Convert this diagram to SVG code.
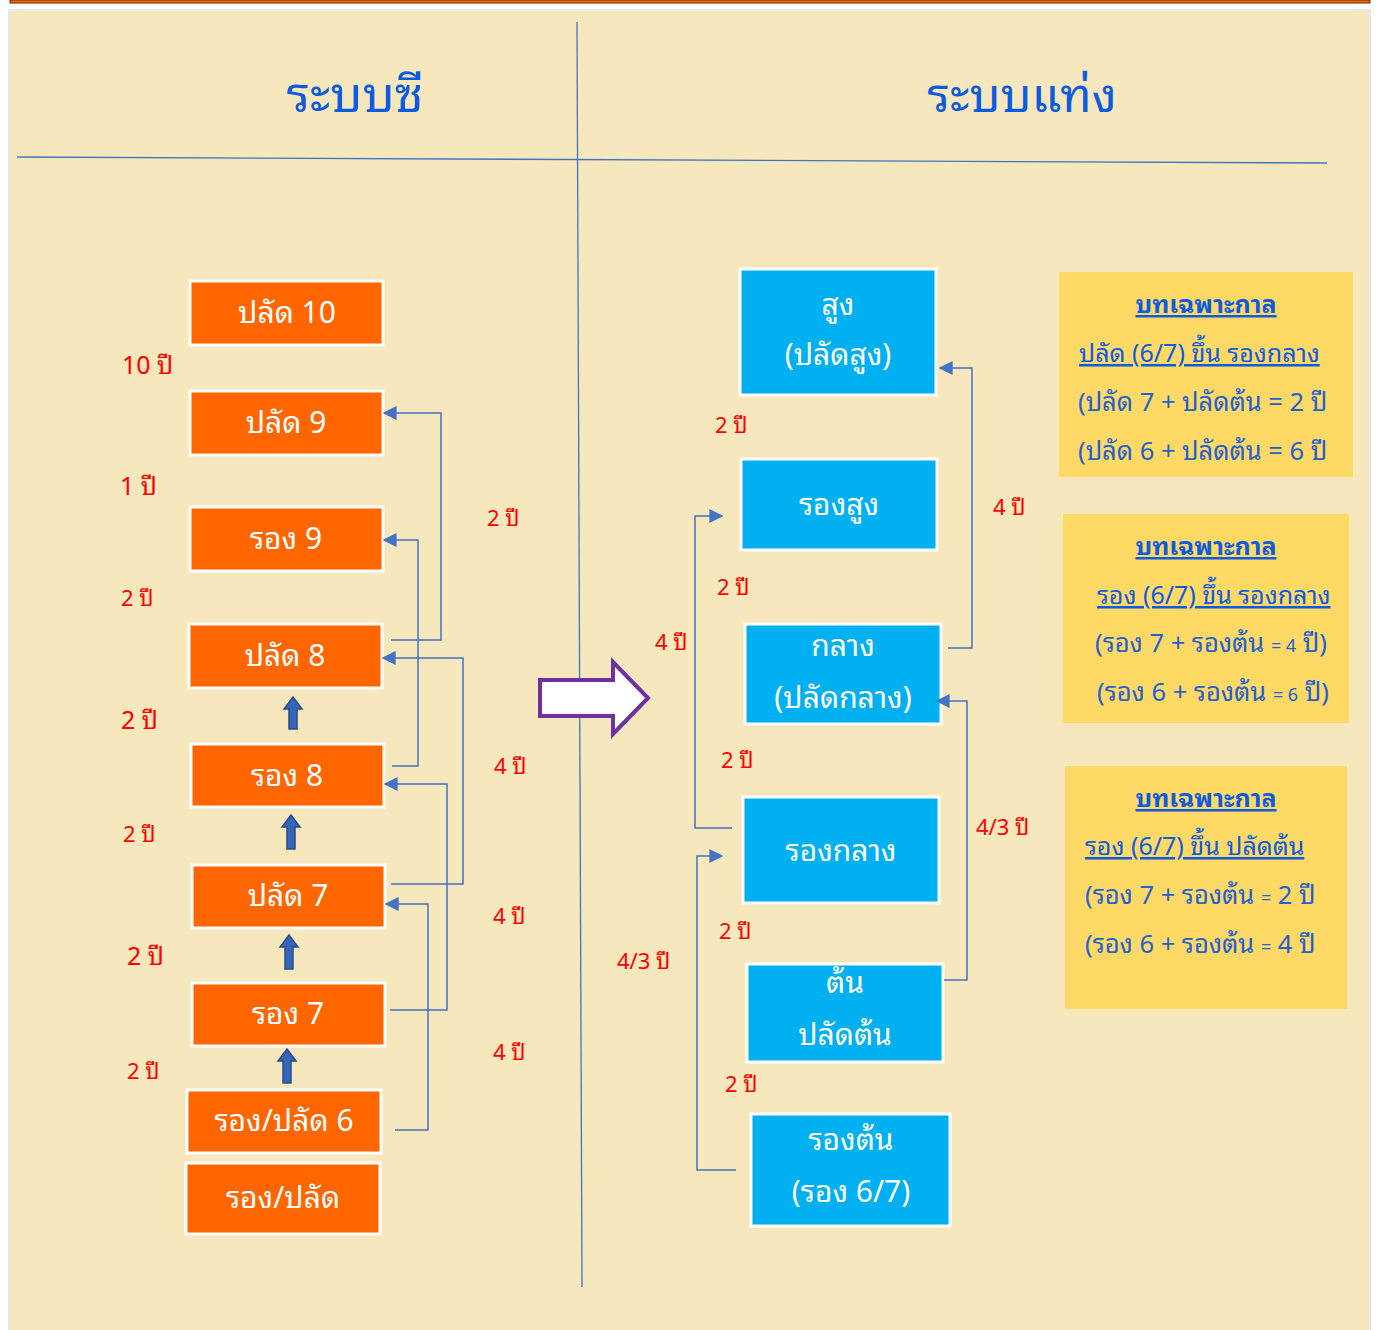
<svg xmlns="http://www.w3.org/2000/svg" width="1379" height="1330" viewBox="0 0 1379 1330">
  <defs>
    <marker id="tri" viewBox="0 0 10 10" refX="9" refY="5" markerWidth="14" markerHeight="14" markerUnits="userSpaceOnUse" orient="auto">
      <path d="M0,0 L10,5 L0,10 Z" fill="#4472C4"/>
    </marker>
    <style>
      text { font-family: "Noto Sans Thai Looped", "Loma", "Garuda", "Waree", "Noto Sans Thai", "Noto Sans", sans-serif; }
      .bg { fill: #F6E7BD; stroke: #E3E9F4; stroke-width: 2; }
      .rule { stroke: #4472C4; stroke-width: 1.3; fill: none; }
      .title { font-size: 48px; fill: #0D5BE1; text-anchor: middle; }
      .onode { fill: #FF6600; stroke: #FFFFFF; stroke-width: 3; }
      .bnode { fill: #00B0F0; stroke: #FFFFFF; stroke-width: 3; }
      .ntext { font-size: 30px; fill: #FFFFFF; text-anchor: middle; }
      .yr { font-size: 22px; fill: #FF0000; }
      .yrl { font-size: 25px; fill: #FF0000; }
      .conn { stroke: #4472C4; stroke-width: 1.5; fill: none; }
      .up { fill: #3566B8; stroke: #2A4B8C; stroke-width: 1.5; }
      .note { fill: #FFD966; }
      .nhead { font-size: 25px; font-weight: bold; fill: #0D5BE1; text-anchor: middle; text-decoration: underline; }
      .nsub { font-size: 25px; fill: #0D5BE1; text-decoration: underline; }
      .nline { font-size: 25.5px; fill: #2460D0; }
      .sm { font-size: 18px; }
    </style>
  </defs>

  <!-- page frame -->
  <rect x="10" y="0" width="1360" height="3" fill="#FF6600" stroke="#5A2A00" stroke-width="1"/>
  <rect class="bg" x="9" y="10" width="1361" height="1322"/>

  <!-- dividing rules -->
  <line class="rule" x1="577" y1="22" x2="582" y2="1287"/>
  <line class="rule" x1="17" y1="157" x2="1327" y2="163"/>

  <text class="title" x="355" y="112" style="font-size:50px">ระบบซี</text>
  <text class="title" x="1022" y="112">ระบบแท่ง</text>

  <!-- left column: ranks -->
  <g id="p10"><rect class="onode" x="190" y="281" width="193" height="64"/><text class="ntext" x="287" y="323">ปลัด 10</text></g>
  <g id="p9"><rect class="onode" x="190" y="391" width="193" height="64"/><text class="ntext" x="286" y="433">ปลัด 9</text></g>
  <g id="r9"><rect class="onode" x="190" y="507" width="193" height="64"/><text class="ntext" x="286" y="549">รอง 9</text></g>
  <g id="p8"><rect class="onode" x="189" y="624" width="193" height="64"/><text class="ntext" x="285" y="666">ปลัด 8</text></g>
  <g id="r8"><rect class="onode" x="191" y="744" width="193" height="63"/><text class="ntext" x="287" y="786">รอง 8</text></g>
  <g id="p7"><rect class="onode" x="192" y="865" width="193" height="63"/><text class="ntext" x="288" y="906">ปลัด 7</text></g>
  <g id="r7"><rect class="onode" x="192" y="983" width="193" height="63"/><text class="ntext" x="288" y="1024">รอง 7</text></g>
  <g id="rp6"><rect class="onode" x="187" y="1090" width="194" height="63"/><text class="ntext" x="284" y="1131">รอง/ปลัด 6</text></g>
  <g id="rp"><rect class="onode" x="186" y="1163" width="194" height="71"/><text class="ntext" x="283" y="1208">รอง/ปลัด</text></g>

  <!-- left column: step durations -->
  <text class="yrl" x="122" y="374">10 ปี</text>
  <text class="yrl" x="120" y="495">1 ปี</text>
  <text class="yr" x="121" y="606">2 ปี</text>
  <text class="yrl" x="121" y="729">2 ปี</text>
  <text class="yr" x="123" y="842">2 ปี</text>
  <text class="yrl" x="127" y="965">2 ปี</text>
  <text class="yr" x="127" y="1079">2 ปี</text>

  <!-- upward promotion arrows -->
  <g id="upArrows">
    <path class="up" d="M293,697 L302,709 L297,709 L297,729 L289,729 L289,709 L284,709 Z"/>
    <path class="up" d="M291,815 L300,827 L295,827 L295,849 L287,849 L287,827 L282,827 Z"/>
    <path class="up" d="M289,935 L298,947 L293,947 L293,969 L285,969 L285,947 L280,947 Z"/>
    <path class="up" d="M287,1049 L296,1061 L291,1061 L291,1083 L283,1083 L283,1061 L278,1061 Z"/>
  </g>

  <!-- transition arrow -->
  <path d="M540,680 L613,680 L613,662 L648,698 L613,734 L613,716 L540,716 Z" fill="#FFFFFF" stroke="#7030A0" stroke-width="4" stroke-linejoin="miter"/>

  <!-- right column: ranks -->
  <g id="high"><rect class="bnode" x="740" y="269" width="196" height="126"/><text class="ntext" x="838" y="315">สูง</text><text class="ntext" x="838" y="365">(ปลัดสูง)</text></g>
  <g id="highDeputy"><rect class="bnode" x="741" y="459" width="196" height="91"/><text class="ntext" x="839" y="515">รองสูง</text></g>
  <g id="mid"><rect class="bnode" x="745" y="624" width="196" height="100"/><text class="ntext" x="843" y="656">กลาง</text><text class="ntext" x="843" y="708">(ปลัดกลาง)</text></g>
  <g id="midDeputy"><rect class="bnode" x="743" y="797" width="196" height="106"/><text class="ntext" x="841" y="861">รองกลาง</text></g>
  <g id="base"><rect class="bnode" x="747" y="964" width="196" height="98"/><text class="ntext" x="845" y="993">ต้น</text><text class="ntext" x="845" y="1045">ปลัดต้น</text></g>
  <g id="baseDeputy"><rect class="bnode" x="751" y="1114" width="199" height="112"/><text class="ntext" x="851" y="1150">รองต้น</text><text class="ntext" x="851" y="1202">(รอง 6/7)</text></g>

  <!-- right column: step durations -->
  <text class="yr" x="715" y="433">2 ปี</text>
  <text class="yr" x="717" y="595">2 ปี</text>
  <text class="yr" x="721" y="768">2 ปี</text>
  <text class="yr" x="719" y="939">2 ปี</text>
  <text class="yr" x="725" y="1092">2 ปี</text>

  <!-- connectors -->
  <g id="connectors">
    <path class="conn" marker-end="url(#tri)" d="M391,640 H441 V413 H384"/>
    <path class="conn" marker-end="url(#tri)" d="M392,766 H418 V540 H384"/>
    <path class="conn" marker-end="url(#tri)" d="M391,884 H463 V658 H383"/>
    <path class="conn" marker-end="url(#tri)" d="M390,1010 H447 V784 H385"/>
    <path class="conn" marker-end="url(#tri)" d="M395,1130 H428 V904 H386"/>
    <path class="conn" marker-end="url(#tri)" d="M948,648 H972 V368 H940"/>
    <path class="conn" marker-end="url(#tri)" d="M944,980 H967 V701 H937"/>
    <path class="conn" marker-end="url(#tri)" d="M732,828 H695 V516 H722"/>
    <path class="conn" marker-end="url(#tri)" d="M736,1170 H697 V856 H722"/>
  </g>

  <!-- connector durations -->
  <text class="yr" x="487" y="526">2 ปี</text>
  <text class="yr" x="494" y="774">4 ปี</text>
  <text class="yr" x="493" y="924">4 ปี</text>
  <text class="yr" x="493" y="1060">4 ปี</text>
  <text class="yr" x="993" y="515">4 ปี</text>
  <text class="yr" x="976" y="835">4/3 ปี</text>
  <text class="yr" x="655" y="650">4 ปี</text>
  <text class="yr" x="617" y="969">4/3 ปี</text>

  <!-- transitional provisions -->
  <g id="note1">
    <rect class="note" x="1059" y="272" width="294" height="205"/>
    <text class="nhead" x="1206" y="313">บทเฉพาะกาล</text>
    <text class="nsub" x="1079" y="362">ปลัด (6/7) ขึ้น รองกลาง</text>
    <text class="nline" x="1078" y="411">(ปลัด 7 + ปลัดต้น = 2 ปี</text>
    <text class="nline" x="1078" y="460">(ปลัด 6 + ปลัดต้น = 6 ปี</text>
  </g>
  <g id="note2">
    <rect class="note" x="1063" y="514" width="286" height="209"/>
    <text class="nhead" x="1206" y="555">บทเฉพาะกาล</text>
    <text class="nsub" x="1097" y="604">รอง (6/7) ขึ้น รองกลาง</text>
    <text class="nline" x="1095" y="652">(รอง 7 + รองต้น <tspan class="sm">= 4</tspan> ปี)</text>
    <text class="nline" x="1097" y="701">(รอง 6 + รองต้น <tspan class="sm">= 6</tspan> ปี)</text>
  </g>
  <g id="note3">
    <rect class="note" x="1065" y="766" width="282" height="243"/>
    <text class="nhead" x="1206" y="807">บทเฉพาะกาล</text>
    <text class="nsub" x="1085" y="855">รอง (6/7) ขึ้น ปลัดต้น</text>
    <text class="nline" x="1085" y="904">(รอง 7 + รองต้น <tspan class="sm">=</tspan> 2 ปี</text>
    <text class="nline" x="1085" y="953">(รอง 6 + รองต้น <tspan class="sm">=</tspan> 4 ปี</text>
  </g>
</svg>
